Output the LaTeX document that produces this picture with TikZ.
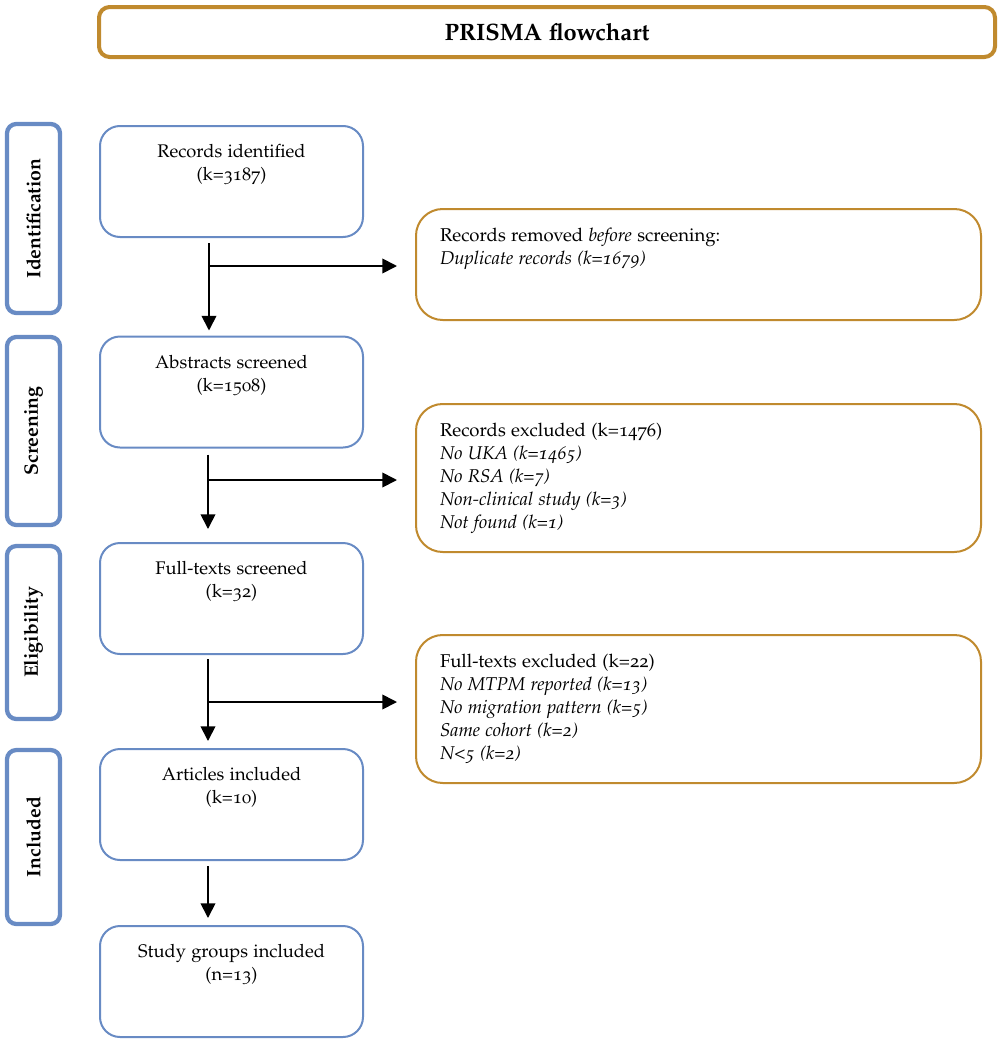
\documentclass[tikz,border=0pt]{standalone}
\usepackage[T1]{fontenc}
\usepackage[osf]{mathpazo}
\usepackage{tikz}
\usetikzlibrary{arrows.meta}

\definecolor{stageblue}{RGB}{104,139,196}
\definecolor{exclgold}{RGB}{192,138,46}
\newcommand{\maintext}[1]{\parbox[c][83.25pt][t]{197.25pt}{\centering\vspace*{14pt}#1}}
\newcommand{\sidetext}[2]{\parbox[c][#1][t]{423.75pt}{\raggedright\leftskip=18pt\vspace*{14pt}#2}}

\tikzset{
  mainbox/.style={draw=stageblue, line width=1.5pt, rounded corners=15pt, inner sep=0pt,
    font=\fontsize{13.7}{17.25}\selectfont},
  sidebox/.style={draw=exclgold, line width=1.5pt, rounded corners=20pt, inner sep=0pt,
    font=\fontsize{13.9}{17.25}\selectfont},
  stagebar/.style={draw=stageblue, line width=3.2pt, rounded corners=7pt, inner sep=0pt,
    rotate=90, minimum height=39.75pt, font=\fontsize{14.6}{16}\selectfont\bfseries},
  flow/.style={line width=1.3pt, -{Triangle[length=11pt,width=11pt]}}
}

\begin{document}
    \begin{tikzpicture}[x=0.75pt, y=-0.75pt]
      \useasboundingbox (0,0) rectangle (999,1042);
      \node[draw=exclgold, line width=3pt, rounded corners=8pt, minimum width=672pt, minimum height=37.5pt,
        font=\fontsize{17.8}{20}\selectfont\bfseries] (title) at (547,32) {PRISMA flowchart};

      \node[stagebar, minimum width=141.75pt] (ident) at (33.5,218.5) {Identification};
      \node[stagebar, minimum width=141pt] (screen) at (33.5,431) {Screening};
      \node[stagebar, minimum width=129.75pt] (elig) at (33.5,632.5) {Eligibility};
      \node[stagebar, minimum width=130.5pt] (incl) at (33.5,837) {Included};

      \node[mainbox] (rec) at (231.5,181.5) {\maintext{Records identified\\(k=3187)}};
      \node[mainbox] (abs) at (231.5,392) {\maintext{Abstracts screened\\(k=1508)}};
      \node[mainbox] (full) at (231.5,598.5) {\maintext{Full-texts screened\\(k=32)}};
      \node[mainbox] (art) at (231.5,804.5) {\maintext{Articles included\\(k=10)}};
      \node[mainbox] (grp) at (231.5,981.5) {\maintext{Study groups included\\(n=13)}};

      \node[sidebox] (dup) at (698.5,264.5) {\sidetext{83.25pt}{Records removed \emph{before} screening:\\
        \emph{Duplicate records (k=1679)}}};
      \node[sidebox] (recex) at (698.5,478) {\sidetext{111pt}{Records excluded (k=1476)\\
        \emph{No UKA (k=1465)}\\\emph{No RSA (k=7)}\\\emph{Non-clinical study (k=3)}\\\emph{Not found (k=1)}}};
      \node[sidebox] (fullex) at (698.5,709) {\sidetext{111pt}{Full-texts excluded (k=22)\\
        \emph{No MTPM reported (k=13)}\\\emph{No migration pattern (k=5)}\\\emph{Same cohort (k=2)}\\\emph{N<5 (k=2)}}};

      \coordinate (j1) at (209,266);
      \coordinate (j2) at (208,480);
      \coordinate (j3) at (208,702);
      \coordinate (j4) at (208,890);

      \draw[flow, shorten <=3.75pt, shorten >=3.75pt] (rec.south -| j1) -- (abs.north -| j1);
      \draw[flow, shorten <=4.5pt, shorten >=9.75pt] (abs.south -| j2) -- (full.north -| j2);
      \draw[flow, shorten <=3pt, shorten >=5.25pt] (full.south -| j3) -- (art.north -| j3);
      \draw[flow, shorten <=3.75pt, shorten >=5.25pt] (art.south -| j4) -- (grp.north -| j4);
      \draw[flow, shorten >=13.5pt] (j1) -- (dup.west |- j1);
      \draw[flow, shorten >=13.5pt] (j2) -- (recex.west |- j2);
      \draw[flow, shorten >=13.5pt] (j3) -- (fullex.west |- j3);
    \end{tikzpicture}
\end{document}
